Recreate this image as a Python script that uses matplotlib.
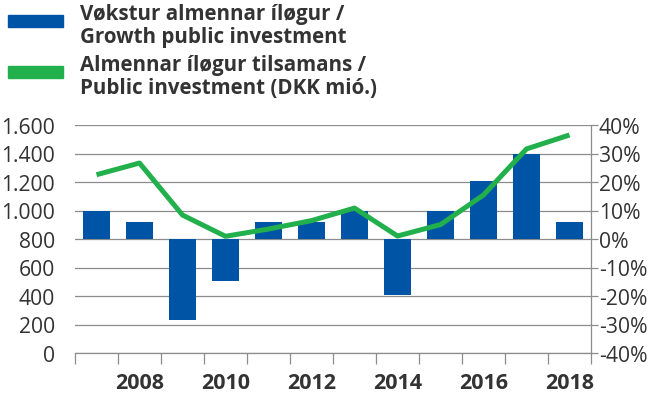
import matplotlib
matplotlib.use("Agg")
import matplotlib.pyplot as plt
from matplotlib.patches import Rectangle
import numpy as np

years = [2007, 2008, 2009, 2010, 2011, 2012, 2013, 2014, 2015, 2016, 2017, 2018]
growth_pct = [10, 6, -28.3, -14.7, 6, 6, 10, -19.5, 10, 20.4, 30, 6]
investment = [1251, 1333, 968, 819, 870, 929, 1017, 821, 901, 1109, 1432, 1530]
left_ticks = [0, 200, 400, 600, 800, 1000, 1200, 1400, 1600]
right_ticks = [-40, -30, -20, -10, 0, 10, 20, 30, 40]
year_labels = [2008, 2010, 2012, 2014, 2016, 2018]
legend_labels = ["Vøkstur almennar íløgur /\nGrowth public investment",
                 "Almennar íløgur tilsamans /\nPublic investment (DKK mió.)"]

BLUE = "#0054a6"
GREEN = "#21b04b"
TXT = "#333333"
GRID = "#8c8c8c"

plt.rcParams['font.family'] = ['Open Sans', 'DejaVu Sans']

fig = plt.figure(figsize=(6.49, 4.02), dpi=100)
L, R, T, B = 75/649, 591/649, 1-126/402, 1-354/402
ax2 = fig.add_axes([L, B, R-L, T-B])
ax = ax2.twinx()
ax.set_zorder(ax2.get_zorder() + 1)
ax.patch.set_visible(False)

# bars on right axis
ax2.bar(years, growth_pct, width=0.63, color=BLUE, zorder=2)
ax2.set_ylim(-40, 40)
ax2.set_yticks(right_ticks)
ax2.yaxis.tick_right()
ax2.yaxis.set_label_position("right")
ax2.set_yticklabels([f"{v}%" for v in right_ticks])
ax2.grid(axis='y', color=GRID, linewidth=0.9, zorder=0)
ax2.set_axisbelow(True)
ax2.tick_params(axis='y', right=True, left=False, length=5, width=0.9, color=GRID,
                labelsize=15.2, labelcolor=TXT, pad=0.5)

# line on left axis
ax.plot(years, investment, color=GREEN, linewidth=3.6, solid_capstyle='butt', zorder=3)
ax.set_ylim(0, 1600)
ax.set_yticks(left_ticks)
ax.yaxis.tick_left()
ax.set_yticklabels([f"{v:,}".replace(",", ".") for v in left_ticks])
ax.tick_params(axis='y', left=False, right=False, labelsize=15.2, labelcolor=TXT, pad=11)

# x axis
ax2.set_xlim(2006.5, 2018.5)
ax2.set_xticks(year_labels)
ax2.set_xticklabels([str(y) for y in year_labels], fontweight='bold', fontsize=15.5, color=TXT)
ax2.set_xticks(np.arange(2006.5, 2019, 1), minor=True)
ax2.tick_params(axis='x', which='major', length=0, pad=14)
ax2.tick_params(axis='x', which='minor', length=8, width=0.9, color=GRID, direction='out')
ax.set_xlim(2006.5, 2018.5)

for a in (ax, ax2):
    for s in ('top', 'left', 'right', 'bottom'):
        a.spines[s].set_visible(False)
ax2.spines['bottom'].set_visible(True)
ax2.spines['bottom'].set_color(GRID)
ax2.spines['bottom'].set_linewidth(0.9)
ax2.spines['right'].set_visible(True)
ax2.spines['right'].set_color(GRID)
ax2.spines['right'].set_linewidth(0.9)

# legend
W, H = 649, 402
def fx(x): return x / W
def fy(y): return 1 - y / H
fig.patches.append(Rectangle((fx(8), fy(28)), fx(55), 12/H, transform=fig.transFigure,
                             color=BLUE, zorder=5))
fig.patches.append(Rectangle((fx(8), fy(79)), fx(55), 12/H, transform=fig.transFigure,
                             color=GREEN, zorder=5))
fig.text(fx(80), fy(4), legend_labels[0], fontsize=14.8, fontweight='bold', color=TXT,
         va='top', ha='left', linespacing=1.1)
fig.text(fx(80), fy(55), legend_labels[1], fontsize=14.8, fontweight='bold', color=TXT,
         va='top', ha='left', linespacing=1.1)

fig.savefig("out.png", dpi=100)
